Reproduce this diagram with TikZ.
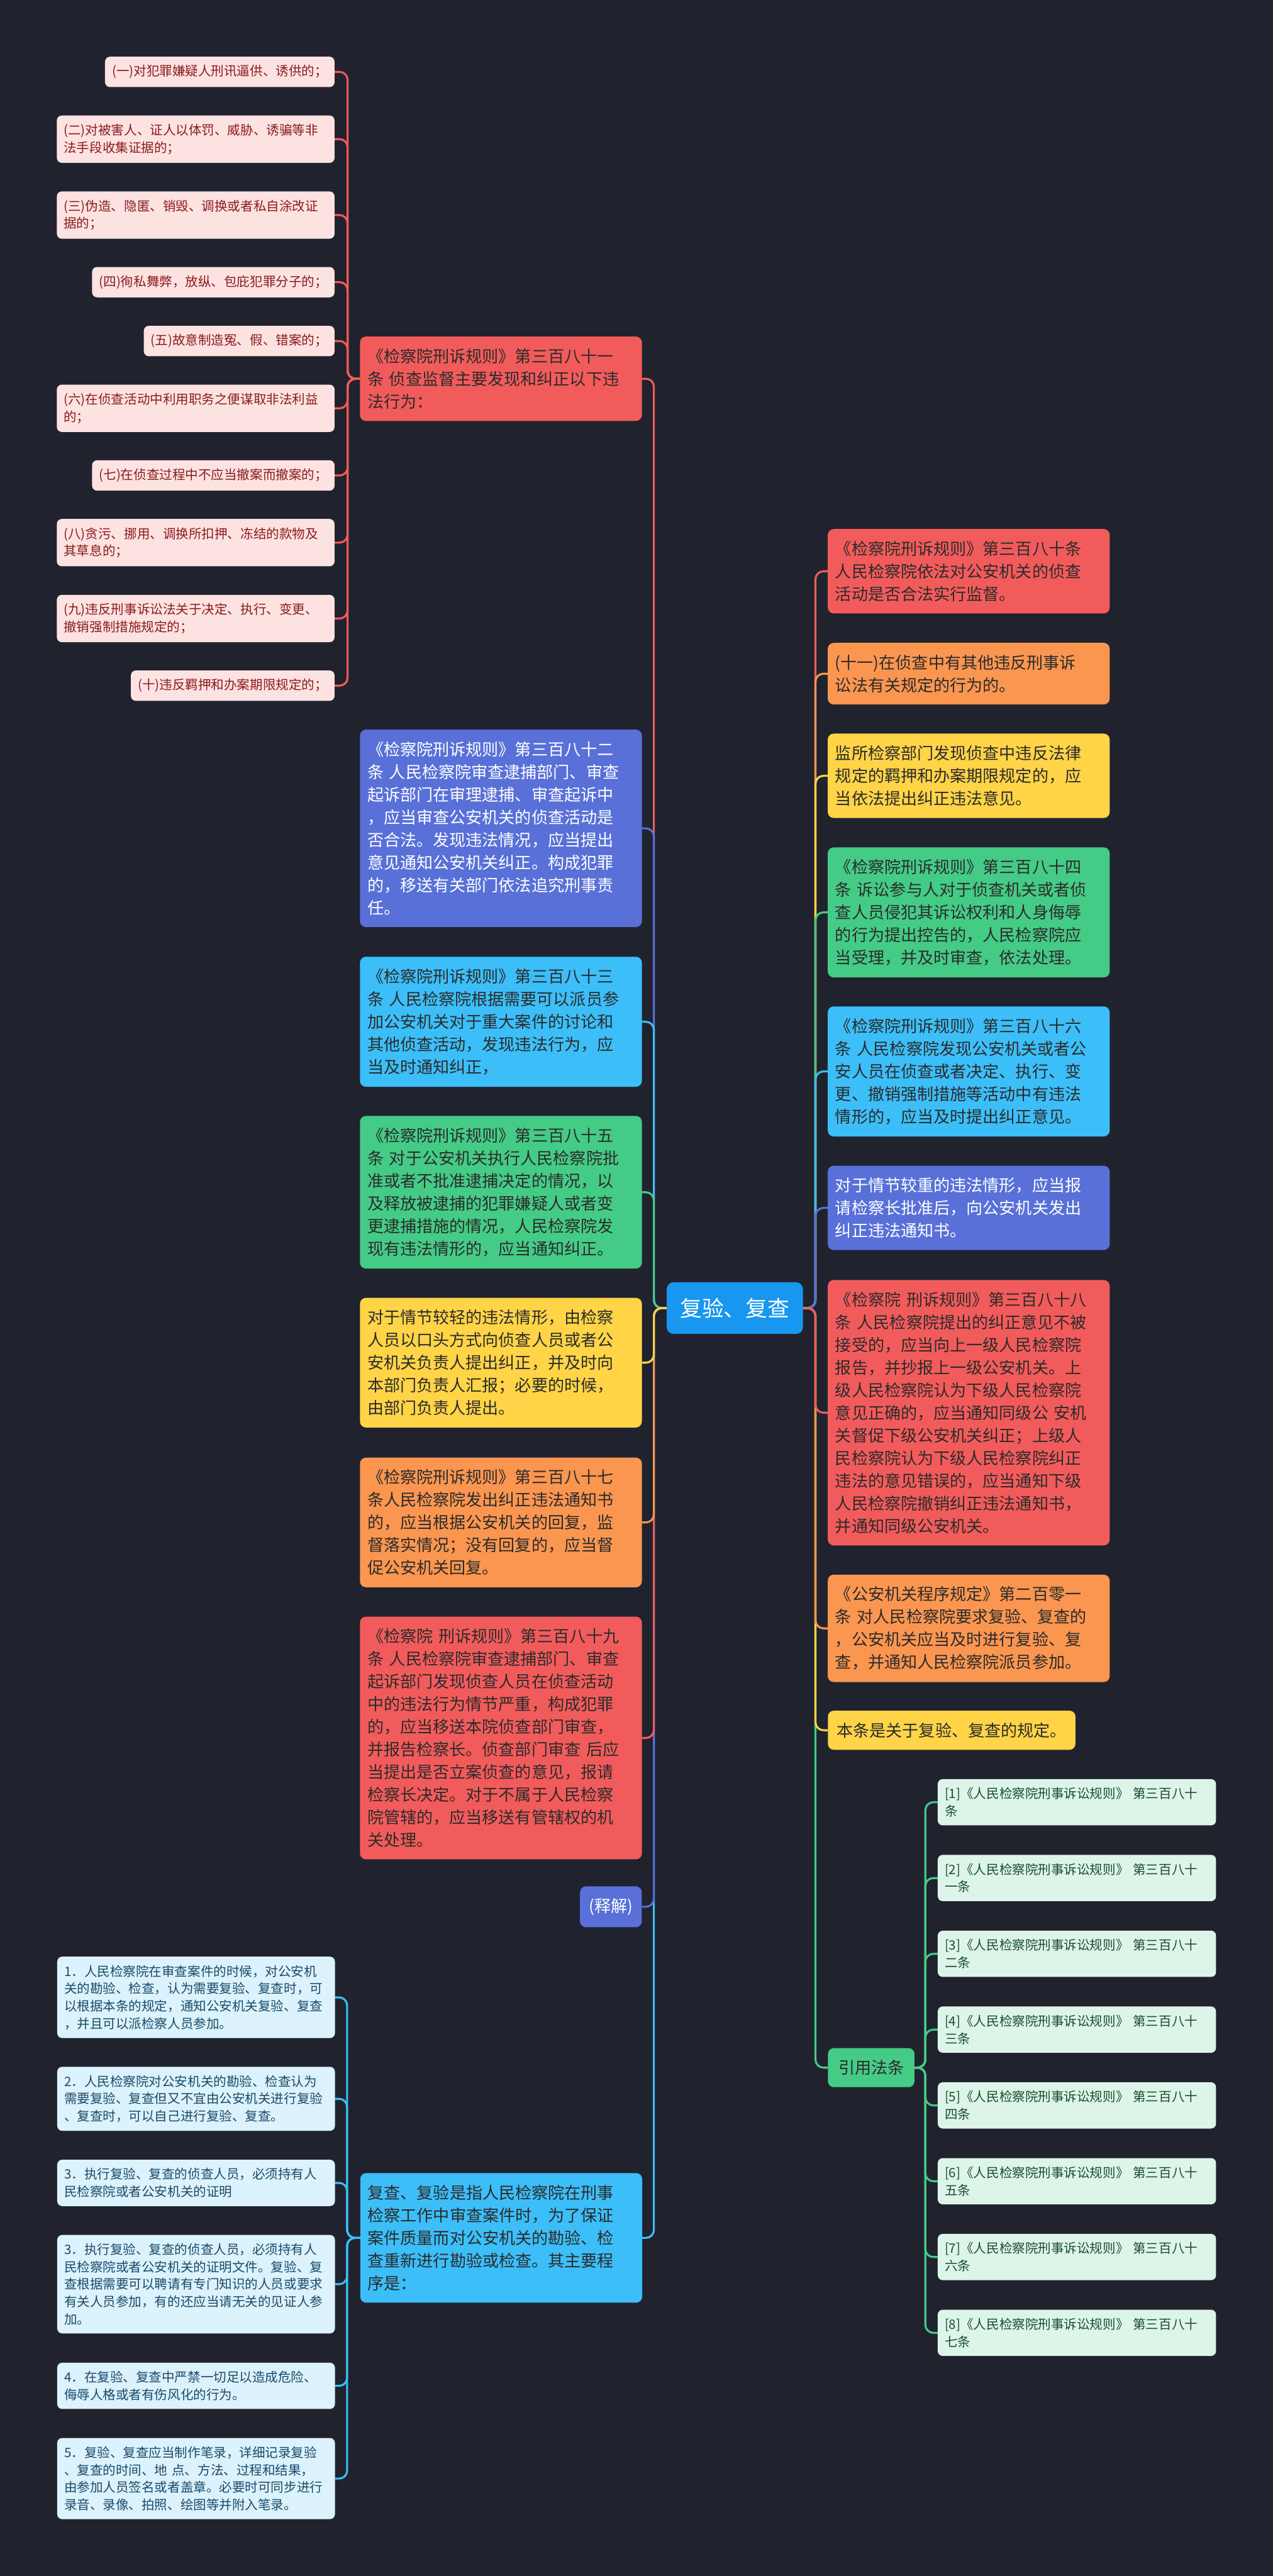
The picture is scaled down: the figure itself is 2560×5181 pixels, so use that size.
\documentclass[tikz,border=0pt]{standalone}
\usepackage{fontspec}
\setmainfont{Noto Sans CJK SC}
\usepackage{tikz}
\usetikzlibrary{backgrounds}
\definecolor{colorbg}{HTML}{20232E}
\definecolor{colorred}{HTML}{F25B5B}
\definecolor{colororg}{HTML}{FA9650}
\definecolor{coloryel}{HTML}{FFD447}
\definecolor{colorgrn}{HTML}{44CB86}
\definecolor{colorcya}{HTML}{3CBEF8}
\definecolor{colorpur}{HTML}{5870D8}
\definecolor{colorroot}{HTML}{1797EF}
\definecolor{colordark}{HTML}{2B2B2B}
\definecolor{fillpk}{HTML}{FDE2E2}
\definecolor{textpk}{HTML}{8A1C1C}
\definecolor{fillbl}{HTML}{DCF2FC}
\definecolor{textbl}{HTML}{1B4A6A}
\definecolor{fillrf}{HTML}{DDF5E8}
\definecolor{textrf}{HTML}{1C4C33}
\newcommand\topicfont{\fontsize{33}{45.5}\selectfont}
\newcommand\leaffont{\fontsize{26}{35}\selectfont}
\newcommand\rootfont{\fontsize{44}{50}\selectfont}
\tikzset{
  rootnode/.style={fill=colorroot, text=white, font=\rootfont, rounded corners=14pt,
    minimum width=274pt, minimum height=104pt},
  topic/.style={rounded corners=12pt, inner xsep=15pt, inner ysep=24pt,
    text width=537pt, align=left, font=\topicfont, text=colordark},
  shorttopic/.style={rounded corners=12pt, inner xsep=18pt, inner ysep=24pt,
    font=\topicfont, text=colordark},
  leaf/.style={rounded corners=10pt, inner xsep=14pt, inner ysep=17pt, font=\leaffont},
  leafpk/.style={leaf, fill=fillpk, text=textpk, anchor=east},
  leafbl/.style={leaf, fill=fillbl, text=textbl, anchor=east},
  leafrf/.style={leaf, fill=fillrf, text=textrf, text width=531.7pt, align=left},
  wide/.style={text width=530.5pt, align=left},
  edge/.style={line width=4pt, rounded corners=16pt}
}

\begin{document}
\begin{tikzpicture}[x=1pt, y=-1pt]
\useasboundingbox (0,0) rectangle (2560,5181);

\node[rootnode] (root) at (1477.8,2630.8) {复验、复查};

% left side
\node[topic, fill=colorred] (lt1) at (1007.4,761.7) {《检察院刑诉规则》第三百八十一\\条~侦查监督主要发现和纠正以下违\\法行为：};
\node[topic, fill=colorpur, text=white] (lt2) at (1007.4,1666) {《检察院刑诉规则》第三百八十二\\条~人民检察院审查逮捕部门、审查\\起诉部门在审理逮捕、审查起诉中\\，应当审查公安机关的侦查活动是\\否合法。发现违法情况，应当提出\\意见通知公安机关纠正。构成犯罪\\的，移送有关部门依法追究刑事责\\任。};
\node[topic, fill=colorcya] (lt3) at (1007.4,2055) {《检察院刑诉规则》第三百八十三\\条~人民检察院根据需要可以派员参\\加公安机关对于重大案件的讨论和\\其他侦查活动，发现违法行为，应\\当及时通知纠正，};
\node[topic, fill=colorgrn] (lt4) at (1007.4,2397.9) {《检察院刑诉规则》第三百八十五\\条~对于公安机关执行人民检察院批\\准或者不批准逮捕决定的情况，以\\及释放被逮捕的犯罪嫌疑人或者变\\更逮捕措施的情况，人民检察院发\\现有违法情形的，应当通知纠正。};
\node[topic, fill=coloryel] (lt5) at (1007.4,2740.7) {对于情节较轻的违法情形，由检察\\人员以口头方式向侦查人员或者公\\安机关负责人提出纠正，并及时向\\本部门负责人汇报；必要的时候，\\由部门负责人提出。};
\node[topic, fill=colororg] (lt6) at (1007.4,3062) {《检察院刑诉规则》第三百八十七\\条人民检察院发出纠正违法通知书\\的，应当根据公安机关的回复，监\\督落实情况；没有回复的，应当督\\促公安机关回复。};
\node[topic, fill=colorred] (lt7) at (1007.4,3495.5) {《检察院~刑诉规则》第三百八十九\\条~人民检察院审查逮捕部门、审查\\起诉部门发现侦查人员在侦查活动\\中的违法行为情节严重，构成犯罪\\的，应当移送本院侦查部门审查，\\并报告检察长。侦查部门审查~后应\\当提出是否立案侦查的意见，报请\\检察长决定。对于不属于人民检察\\院管辖的，应当移送有管辖权的机\\关处理。};
\node[shorttopic, fill=colorpur, text=white, anchor=east] (lt8) at (1291,3835) {(释解)};
\node[topic, fill=colorcya] (lt9) at (1008,4500.9) {复查、复验是指人民检察院在刑事\\检察工作中审查案件时，为了保证\\案件质量而对公安机关的勘验、检\\查重新进行勘验或检查。其主要程\\序是：};

% violations
\node[leafpk] (pk1) at (673,144.6) {(一)对犯罪嫌疑人刑讯逼供、诱供的；};
\node[leafpk, wide] (pk2) at (673,279.9) {(二)对被害人、证人以体罚、威胁、诱骗等非\\法手段收集证据的；};
\node[leafpk, wide] (pk3) at (673,432.6) {(三)伪造、隐匿、销毁、调换或者私自涂改证\\据的；};
\node[leafpk] (pk4) at (673,567.5) {(四)徇私舞弊，放纵、包庇犯罪分子的；};
\node[leafpk] (pk5) at (673,685.9) {(五)故意制造冤、假、错案的；};
\node[leafpk, wide] (pk6) at (673,821.2) {(六)在侦查活动中利用职务之便谋取非法利益\\的；};
\node[leafpk] (pk7) at (673,956.3) {(七)在侦查过程中不应当撤案而撤案的；};
\node[leafpk, wide] (pk8) at (673,1091.4) {(八)贪污、挪用、调换所扣押、冻结的款物及\\其草息的；};
\node[leafpk, wide] (pk9) at (673,1244) {(九)违反刑事诉讼法关于决定、执行、变更、\\撤销强制措施规定的；};
\node[leafpk] (pk10) at (673,1379) {(十)违反羁押和办案期限规定的；};

% procedure
\node[leafbl, wide] (bl1) at (673.8,4017.2) {1．人民检察院在审查案件的时候，对公安机\\关的勘验、检查，认为需要复验、复查时，可\\以根据本条的规定，通知公安机关复验、复查\\，并且可以派检察人员参加。};
\node[leafbl, wide] (bl2) at (673.8,4221.2) {2．人民检察院对公安机关的勘验、检查认为\\需要复验、复查但又不宜由公安机关进行复验\\、复查时，可以自己进行复验、复查。};
\node[leafbl, wide] (bl3) at (673.8,4390.3) {3．执行复验、复查的侦查人员，必须持有人\\民检察院或者公安机关的证明};
\node[leafbl, wide] (bl4) at (673.8,4594) {3．执行复验、复查的侦查人员，必须持有人\\民检察院或者公安机关的证明文件。复验、复\\查根据需要可以聘请有专门知识的人员或要求\\有关人员参加，有的还应当请无关的见证人参\\加。};
\node[leafbl, wide] (bl5) at (673.8,4798.5) {4．在复验、复查中严禁一切足以造成危险、\\侮辱人格或者有伤风化的行为。};
\node[leafbl, wide] (bl6) at (673.8,4985) {5．复验、复查应当制作笔录，详细记录复验\\、复查的时间、地~点、方法、过程和结果，\\由参加人员签名或者盖章。必要时可同步进行\\录音、录像、拍照、绘图等并附入笔录。};

% right side
\node[topic, fill=colorred] (rt1) at (1948.2,1148.9) {《检察院刑诉规则》第三百八十条\\人民检察院依法对公安机关的侦查\\活动是否合法实行监督。};
\node[topic, fill=colororg] (rt2) at (1948.2,1354.9) {(十一)在侦查中有其他违反刑事诉\\讼法有关规定的行为的。};
\node[topic, fill=coloryel] (rt3) at (1948.2,1560.3) {监所检察部门发现侦查中违反法律\\规定的羁押和办案期限规定的，应\\当依法提出纠正违法意见。};
\node[topic, fill=colorgrn] (rt4) at (1948.2,1835) {《检察院刑诉规则》第三百八十四\\条~诉讼参与人对于侦查机关或者侦\\查人员侵犯其诉讼权利和人身侮辱\\的行为提出控告的，人民检察院应\\当受理，并及时审查，依法处理。};
\node[topic, fill=colorcya] (rt5) at (1948.2,2154.9) {《检察院刑诉规则》第三百八十六\\条~人民检察院发现公安机关或者公\\安人员在侦查或者决定、执行、变\\更、撤销强制措施等活动中有违法\\情形的，应当及时提出纠正意见。};
\node[topic, fill=colorpur, text=white] (rt6) at (1948.2,2429.4) {对于情节较重的违法情形，应当报\\请检察长批准后，向公安机关发出\\纠正违法通知书。};
\node[topic, fill=colorred] (rt7) at (1948.2,2841.3) {《检察院~刑诉规则》第三百八十八\\条~人民检察院提出的纠正意见不被\\接受的，应当向上一级人民检察院\\报告，并抄报上一级公安机关。上\\级人民检察院认为下级人民检察院\\意见正确的，应当通知同级公~安机\\关督促下级公安机关纠正；上级人\\民检察院认为下级人民检察院纠正\\违法的意见错误的，应当通知下级\\人民检察院撤销纠正违法通知书，\\并通知同级公安机关。};
\node[topic, fill=colororg] (rt8) at (1948.2,3275) {《公安机关程序规定》第二百零一\\条~对人民检察院要求复验、复查的\\，公安机关应当及时进行复验、复\\查，并通知人民检察院派员参加。};
\node[shorttopic, fill=coloryel, anchor=west] (rt9) at (1664.7,3479.9) {本条是关于复验、复查的规定。};
\node[shorttopic, fill=colorgrn, anchor=west, inner xsep=21pt] (cite) at (1664.9,4158.5) {引用法条};

% cited articles
\foreach \i/\s in {1/{},2/一,3/二,4/三,5/四,6/五,7/六,8/七}
  \node[leafrf] (rf\i) at (2165.75,{3624.7+152.45*(\i-1)}) {[\i]《人民检察院刑事诉讼规则》 第三百八十\\{\s}条};

\coordinate (spL) at (1315,0);
\coordinate (spR) at (1640,0);
\coordinate (spP) at (699,0);
\coordinate (spB) at (698,0);
\coordinate (spC) at (1861,0);

\begin{scope}[on background layer]
\fill[colorbg] (0,0) rectangle (2560,5181);
\foreach \n/\c in {lt1/colorred,lt2/colorpur,lt3/colorcya,lt4/colorgrn,lt9/colorcya,lt8/colorpur,lt7/colorred,lt6/colororg,lt5/coloryel}
  \draw[edge, \c] (root.center) -- (root.center -| spL) |- (\n.east);
\foreach \n/\c in {rt1/colorred,rt2/colororg,rt3/coloryel,rt4/colorgrn,rt5/colorcya,rt6/colorpur,cite/colorgrn,rt9/coloryel,rt8/colororg,rt7/colorred}
  \draw[edge, \c] (root.center) -- (root.center -| spR) |- (\n.west);
\foreach \n in {pk1,pk2,pk3,pk4,pk5,pk10,pk9,pk8,pk7,pk6}
  \draw[edge, colorred] (lt1.west) -- (lt1.west -| spP) |- (\n.east);
\foreach \n in {bl1,bl2,bl3,bl6,bl5,bl4}
  \draw[edge, colorcya] (lt9.west) -- (lt9.west -| spB) |- (\n.east);
\foreach \n in {rf1,rf2,rf3,rf4,rf8,rf7,rf6,rf5}
  \draw[edge, colorgrn] (cite.east) -- (cite.east -| spC) |- (\n.west);
\end{scope}
\end{tikzpicture}
\end{document}
